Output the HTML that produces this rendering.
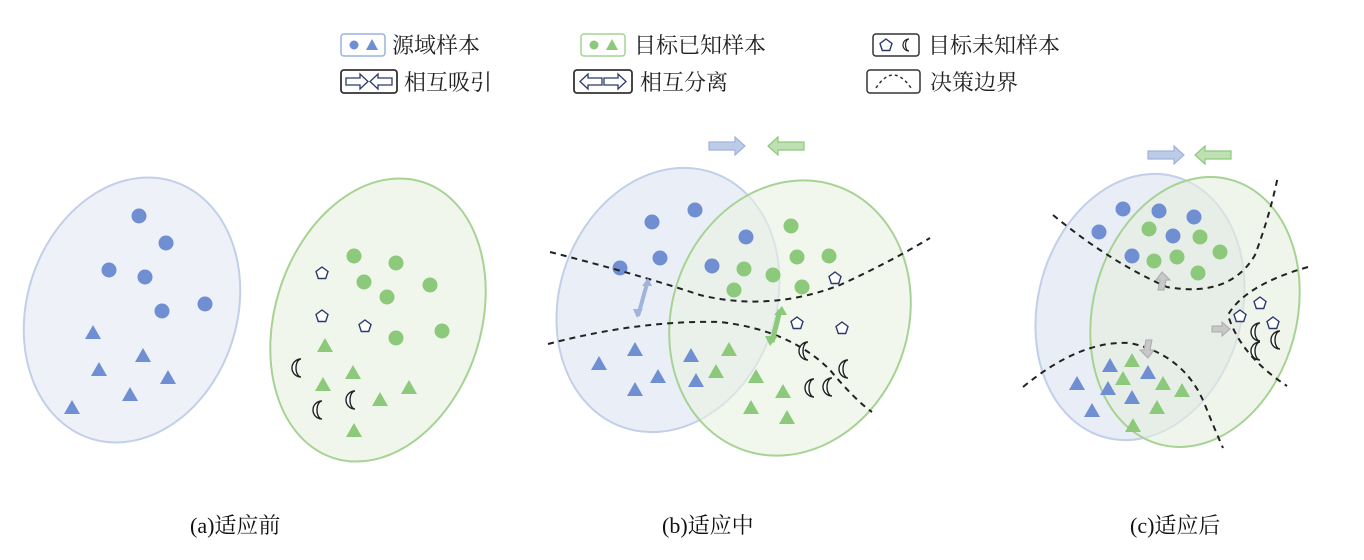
<!DOCTYPE html><html><head><meta charset="utf-8"><style>body{margin:0;background:#fff}svg{display:block}text{font-family:"Liberation Serif","Noto Serif CJK SC","Noto Sans CJK SC",serif}</style></head><body>
<svg width="1364" height="560" viewBox="0 0 1364 560" xmlns="http://www.w3.org/2000/svg">
<defs>
<g id="bd"><circle r="7.5" fill="#6f8fd2"/></g>
<g id="gd"><circle r="7.5" fill="#8cc97a"/></g>
<g id="bt"><polygon points="0,-8 8,6 -8,6" fill="#6f8fd2"/></g>
<g id="gt"><polygon points="0,-8 8,6 -8,6" fill="#8cc97a"/></g>
<g id="pt"><polygon points="0,-6 6,-1.5 3.7,5.5 -3.7,5.5 -6,-1.5" fill="#fff" stroke="#2b3a6a" stroke-width="1.4"/></g>
<g id="mn"><path d="M4,-9 A9,9 0 1 0 4,9 A5,9 0 0 1 4,-9Z" fill="#fff" stroke="#222" stroke-width="1.4"/></g>
<g id="mns"><path d="M3,-6 A6,6 0 1 0 3,6 A3.5,6 0 0 1 3,-6Z" fill="#fff" stroke="#222" stroke-width="1.2"/></g>
<g id="ra"><path d="M0,-4 H26 V-9 L36,0 L26,9 V4 H0Z"/></g>
</defs>
<!-- legend -->
<g font-size="22" fill="#222">
<rect x="341" y="34" width="44" height="22" rx="3" fill="#fff" stroke="#9bb3e0" stroke-width="1.5"/>
<circle cx="354" cy="45" r="4.5" fill="#6f8fd2"/><polygon points="372,39 378,50 366,50" fill="#6f8fd2"/>
<text x="392" y="53">源域样本</text>
<rect x="581" y="34" width="44" height="22" rx="3" fill="#fff" stroke="#a6d394" stroke-width="1.5"/>
<circle cx="594" cy="45" r="4.5" fill="#8cc97a"/><polygon points="612,39 618,50 606,50" fill="#8cc97a"/>
<text x="634" y="53">目标已知样本</text>
<rect x="873" y="34" width="46" height="22" rx="3" fill="#fff" stroke="#333" stroke-width="1.5"/>
<use href="#pt" x="886" y="45"/><use href="#mns" x="906" y="45"/>
<text x="928" y="53">目标未知样本</text>
<rect x="341" y="70" width="56" height="23" rx="3" fill="#fff" stroke="#333" stroke-width="1.8"/>
<path d="M346,78 H360 V74 L368,81.5 L360,89 V85 H346Z M392,78 H378 V74 L370,81.5 L378,89 V85 H392Z" fill="#fff" stroke="#2b3a6a" stroke-width="1.3"/>
<text x="404" y="90">相互吸引</text>
<rect x="574" y="70" width="58" height="23" rx="3" fill="#fff" stroke="#333" stroke-width="1.8"/>
<path d="M602,78 H588 V74 L580,81.5 L588,89 V85 H602Z M604,78 H618 V74 L626,81.5 L618,89 V85 H604Z" fill="#fff" stroke="#2b3a6a" stroke-width="1.3"/>
<text x="640" y="90">相互分离</text>
<rect x="867" y="70" width="53" height="23" rx="3" fill="#fff" stroke="#333" stroke-width="1.5"/>
<path d="M876,88 Q893,62 911,88" fill="none" stroke="#333" stroke-width="1.5" stroke-dasharray="3,3"/>
<text x="930" y="90">决策边界</text>
</g>
<!-- panel a -->
<ellipse cx="132" cy="310" rx="105" ry="135" transform="rotate(18 132 310)" fill="#eef1f8" stroke="#c3cfe8" stroke-width="2"/>
<ellipse cx="378" cy="320" rx="103" ry="145" transform="rotate(18 378 320)" fill="#f1f6ec" stroke="#a6d394" stroke-width="2"/>
<use href="#bd" x="139" y="216"/><use href="#bd" x="166" y="243"/><use href="#bd" x="109" y="270"/><use href="#bd" x="145" y="277"/><use href="#bd" x="205" y="304"/><use href="#bd" x="162" y="311"/>
<use href="#bt" x="93" y="333"/><use href="#bt" x="143" y="356"/><use href="#bt" x="99" y="370"/><use href="#bt" x="168" y="378"/><use href="#bt" x="130" y="395"/><use href="#bt" x="72" y="408"/>
<use href="#gd" x="354" y="256"/><use href="#gd" x="396" y="263"/><use href="#gd" x="364" y="282"/><use href="#gd" x="430" y="285"/><use href="#gd" x="387" y="297"/><use href="#gd" x="396" y="338"/><use href="#gd" x="442" y="331"/>
<use href="#pt" x="322" y="273"/><use href="#pt" x="322" y="316"/><use href="#pt" x="365" y="326"/>
<use href="#gt" x="325" y="346"/><use href="#gt" x="353" y="373"/><use href="#gt" x="323" y="385"/><use href="#gt" x="409" y="388"/><use href="#gt" x="380" y="400"/><use href="#gt" x="354" y="431"/>
<use href="#mn" x="297" y="368"/><use href="#mn" x="318" y="410"/><use href="#mn" x="351" y="400"/>
<!-- panel b -->
<g fill="#bccbe8" stroke="#9fb3dc" stroke-width="1.2"><use href="#ra" x="709" y="146"/></g>
<g fill="#bfe0b2" stroke="#8cc97a" stroke-width="1.2"><use href="#ra" transform="translate(804 146) scale(-1 1)"/></g>
<ellipse cx="668" cy="300" rx="108" ry="135" transform="rotate(20 668 300)" fill="#e8edf6" fill-opacity="0.9" stroke="#c3cfe8" stroke-width="2"/>
<ellipse cx="790" cy="318" rx="118" ry="140" transform="rotate(20 790 318)" fill="#e9f1e3" fill-opacity="0.6" stroke="#a6d394" stroke-width="2"/>
<use href="#bd" x="652" y="222"/><use href="#bd" x="695" y="210"/><use href="#bd" x="746" y="237"/><use href="#bd" x="660" y="258"/><use href="#bd" x="620" y="268"/><use href="#bd" x="712" y="266"/>
<use href="#gd" x="791" y="226"/><use href="#gd" x="797" y="257"/><use href="#gd" x="829" y="256"/><use href="#gd" x="744" y="269"/><use href="#gd" x="773" y="275"/><use href="#gd" x="734" y="290"/><use href="#gd" x="802" y="287"/>
<use href="#pt" x="835" y="278"/><use href="#pt" x="797" y="323"/><use href="#pt" x="842" y="328"/>
<use href="#bt" x="635" y="350"/><use href="#bt" x="691" y="356"/><use href="#bt" x="599" y="364"/><use href="#bt" x="658" y="377"/><use href="#bt" x="635" y="390"/><use href="#bt" x="696" y="381"/>
<use href="#gt" x="729" y="350"/><use href="#gt" x="716" y="372"/><use href="#gt" x="756" y="377"/><use href="#gt" x="783" y="392"/><use href="#gt" x="751" y="408"/><use href="#gt" x="787" y="418"/>
<use href="#mn" x="804" y="351"/><use href="#mn" x="844" y="369"/><use href="#mn" x="828" y="387"/><use href="#mn" x="810" y="388"/>
<g fill="none" stroke="#222" stroke-width="2" stroke-dasharray="6,5">
<path d="M550,252 Q640,275 700,295 Q770,312 840,285 Q890,262 930,238"/>
<path d="M548,344 Q640,320 720,322 Q790,330 830,370 Q855,400 872,412"/>
</g>
<path d="M648,280 L638,316" stroke="#9fb3dc" stroke-width="4"/><path d="M648,278 l-6,8 h10z M637,318 l-4,-9 h10z" fill="#9fb3dc"/>
<path d="M780,310 L772,342" stroke="#8cc97a" stroke-width="5"/><path d="M782,306 l-8,9 h13z M770,346 l-5,-10 h13z" fill="#8cc97a"/>
<!-- panel c -->
<g fill="#bccbe8" stroke="#9fb3dc" stroke-width="1.2"><use href="#ra" x="1148" y="155"/></g>
<g fill="#bfe0b2" stroke="#8cc97a" stroke-width="1.2"><use href="#ra" transform="translate(1231 155) scale(-1 1)"/></g>
<ellipse cx="1140" cy="307" rx="102" ry="135" transform="rotate(15 1140 307)" fill="#e8edf6" stroke="#c3cfe8" stroke-width="2"/>
<ellipse cx="1195" cy="312" rx="102" ry="137" transform="rotate(15 1195 312)" fill="#e6efe0" fill-opacity="0.6" stroke="#a6d394" stroke-width="2"/>
<use href="#bd" x="1123" y="209"/><use href="#bd" x="1159" y="211"/><use href="#bd" x="1194" y="217"/><use href="#bd" x="1099" y="232"/><use href="#bd" x="1173" y="236"/><use href="#bd" x="1132" y="256"/>
<use href="#gd" x="1149" y="229"/><use href="#gd" x="1200" y="237"/><use href="#gd" x="1220" y="252"/><use href="#gd" x="1154" y="261"/><use href="#gd" x="1177" y="257"/><use href="#gd" x="1198" y="273"/>
<use href="#pt" x="1260" y="303"/><use href="#pt" x="1240" y="316"/><use href="#pt" x="1273" y="323"/>
<use href="#mn" x="1256" y="332"/><use href="#mn" x="1276" y="340"/><use href="#mn" x="1256" y="351"/>
<use href="#bt" x="1110" y="366"/><use href="#bt" x="1148" y="373"/><use href="#bt" x="1077" y="384"/><use href="#bt" x="1108" y="389"/><use href="#bt" x="1132" y="398"/><use href="#bt" x="1092" y="411"/>
<use href="#gt" x="1132" y="361"/><use href="#gt" x="1123" y="379"/><use href="#gt" x="1163" y="384"/><use href="#gt" x="1182" y="391"/><use href="#gt" x="1157" y="408"/><use href="#gt" x="1133" y="426"/>
<g fill="none" stroke="#222" stroke-width="2" stroke-dasharray="6,5">
<path d="M1053,215 Q1110,262 1167,287 Q1230,298 1255,255 Q1270,215 1278,176"/>
<path d="M1308,267 Q1245,285 1228,315 Q1240,355 1287,386"/>
<path d="M1023,387 Q1080,340 1130,343 Q1185,355 1205,405 Q1215,430 1223,448"/>
</g>
<g fill="#c8c8c8" stroke="#aaa" stroke-width="1">
<path d="M1162,272 l8,8 h-4 l-2,10 h-6 l2,-10 h-4z"/>
<path d="M1148,358 l-8,-8 h4 l2,-10 h6 l-2,10 h4z"/>
<path d="M1212,326 h10 v-4 l8,7 l-8,7 v-4 h-10z"/>
</g>
<!-- captions -->
<g font-size="22" fill="#111">
<text x="190" y="533">(a)适应前</text>
<text x="662" y="533">(b)适应中</text>
<text x="1130" y="533">(c)适应后</text>
</g>
</svg>
</body></html>
